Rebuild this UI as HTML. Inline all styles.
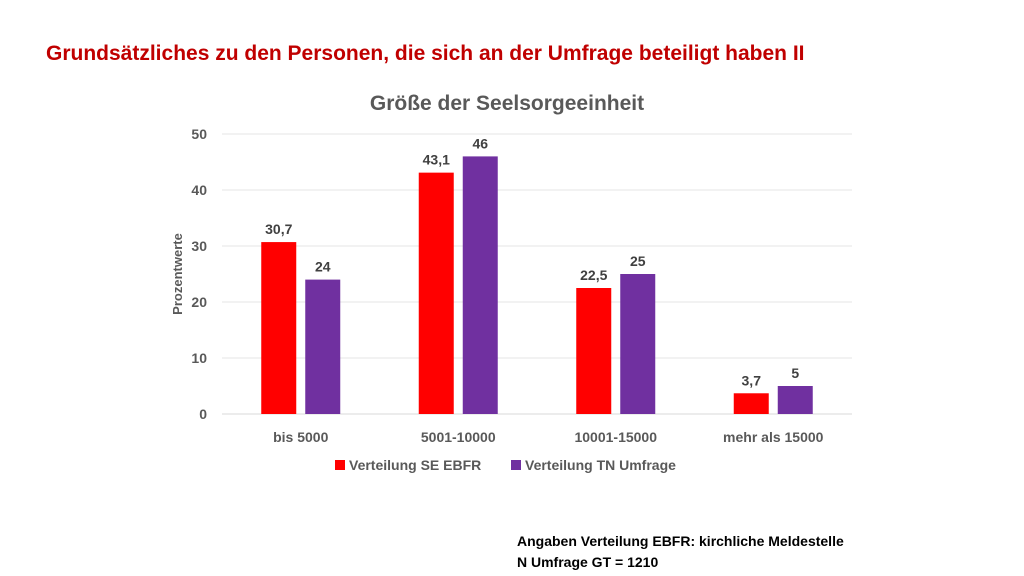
<!DOCTYPE html>
<html><head><meta charset="utf-8"><style>
body{margin:0;width:1024px;height:576px;background:#fff;font-family:"Liberation Sans",sans-serif;overflow:hidden;position:relative}
.t{position:absolute;white-space:nowrap}
</style></head><body>
<div class="t" style="left:46px;top:42px;font-size:21px;font-weight:bold;color:#C00000">Grundsätzliches zu den Personen, die sich an der Umfrage beteiligt haben II</div>
<svg id="chart" width="1024" height="576" style="position:absolute;left:0;top:0" font-family="Liberation Sans, sans-serif"></svg>
<div class="t" style="left:517px;top:531px;font-size:14px;font-weight:bold;color:#000;line-height:21px">Angaben Verteilung EBFR: kirchliche Meldestelle<br>N Umfrage GT = 1210</div>
<script>
const categories=["bis 5000","5001-10000","10001-15000","mehr als 15000"];
const seriesNames=["Verteilung SE EBFR","Verteilung TN Umfrage"];
const seriesA=[30.7,43.1,22.5,3.7];
const seriesB=[24,46,25,5];
const labelsA=["30,7","43,1","22,5","3,7"];
const labelsB=["24","46","25","5"];
const ticks=[0,10,20,30,40,50];
const colors=["#FF0000","#7030A0"];
const svg=document.getElementById('chart');const NS="http://www.w3.org/2000/svg";
function mk(t,a,txt){const e=document.createElementNS(NS,t);for(const k in a)e.setAttribute(k,a[k]);if(txt!==undefined)e.textContent=txt;svg.appendChild(e);return e;}
const x0=222,x1=852,yb=414,yt=134;
const y=v=>yb-(v/50)*(yb-yt);
const bw=(x1-x0)/categories.length;
const cx=i=>x0+bw*(i+0.5);
let e=mk('text',{x:507,y:110,'text-anchor':'middle','font-size':21,'font-weight':'bold',fill:'#595959'},'Größe der Seelsorgeeinheit');

ticks.forEach(t=>{e=mk('line',{x1:x0,x2:x1,y1:y(t),y2:y(t),stroke:t===0?'#D9D9D9':'#E5E5E5','stroke-width':1});

e=mk('text',{x:207,y:y(t)+5,'text-anchor':'end','font-size':14,'font-weight':'bold',fill:'#595959'},t);
});
e=mk('text',{x:0,y:0,transform:'translate(182,274) rotate(-90)','text-anchor':'middle','font-size':13,'font-weight':'bold',fill:'#595959'},'Prozentwerte');

categories.forEach((c,i)=>{
 const w=35,g=9;
 const xa=cx(i)-g/2-w, xb=cx(i)+g/2;
 e=mk('rect',{x:xa,y:y(seriesA[i]),width:w,height:yb-y(seriesA[i]),fill:colors[0]});
 
 e=mk('rect',{x:xb,y:y(seriesB[i]),width:w,height:yb-y(seriesB[i]),fill:colors[1]});
 
 e=mk('text',{x:xa+w/2,y:y(seriesA[i])-8,'text-anchor':'middle','font-size':14,'font-weight':'bold',fill:'#404040'},labelsA[i]);
 
 e=mk('text',{x:xb+w/2,y:y(seriesB[i])-8,'text-anchor':'middle','font-size':14,'font-weight':'bold',fill:'#404040'},labelsB[i]);
 
 e=mk('text',{x:cx(i),y:442,'text-anchor':'middle','font-size':14,'font-weight':'bold',fill:'#595959'},c);
 
});
const lx=[335,511];
seriesNames.forEach((n,i)=>{
 e=mk('rect',{x:lx[i],y:460,width:10,height:10,fill:colors[i]});
 
 e=mk('text',{x:lx[i]+14,y:470,'font-size':14,'font-weight':'bold',fill:'#595959'},n);
 
});
</script>
</body></html>
